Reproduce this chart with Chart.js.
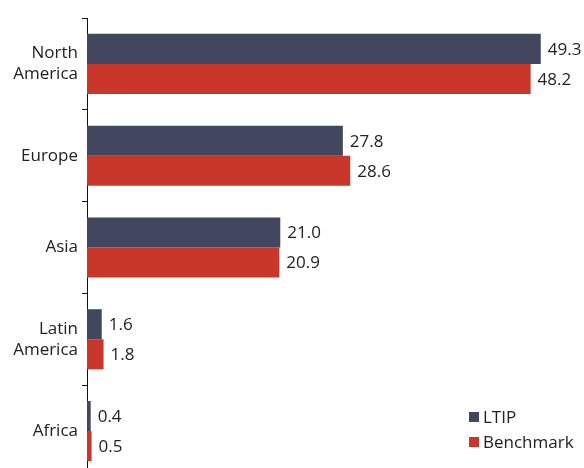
<!DOCTYPE html>
<html>
<head>
<meta charset="utf-8">
<script src="https://cdn.jsdelivr.net/npm/chart.js@4/dist/chart.umd.min.js"></script>
<style>
    html, body { margin: 0; padding: 0; background: #fff; overflow: hidden; }
    #wrap { position: relative; width: 584px; height: 477px; }
</style>
</head>
<body>
<div id="wrap"><canvas id="regionChart"></canvas></div>
<script>
const regions = [['North', 'America'], 'Europe', 'Asia', ['Latin', 'America'], 'Africa'];
const ltipValues = [49.3, 27.8, 21.0, 1.6, 0.4];
const benchmarkValues = [48.2, 28.6, 20.9, 1.8, 0.5];
const seriesNames = ['LTIP', 'Benchmark'];

const FONT = '"Open Sans", Roboto, sans-serif';

// value labels at the end of each bar
const valueLabels = {
    id: 'valueLabels',
    afterDatasetsDraw(chart) {
        const ctx = chart.ctx;
        ctx.save();
        ctx.font = '17px ' + FONT;
        ctx.fillStyle = '#222';
        ctx.textAlign = 'left';
        ctx.textBaseline = 'middle';
        chart.data.datasets.forEach(function (ds, i) {
            chart.getDatasetMeta(i).data.forEach(function (bar, j) {
                ctx.fillText(ds.data[j].toFixed(1), bar.x + 7, bar.y + 1);
            });
        });
        ctx.restore();
    }
};

// legend in the lower right corner of the plot
const cornerLegend = {
    id: 'cornerLegend',
    afterDraw(chart) {
        const ctx = chart.ctx;
        ctx.save();
        ctx.font = '17px ' + FONT;
        ctx.textBaseline = 'middle';
        chart.data.datasets.forEach(function (ds, i) {
            const y = 417 + i * 25;
            ctx.fillStyle = ds.backgroundColor;
            ctx.fillRect(469, y - 5, 10, 10);
            ctx.fillStyle = '#222';
            ctx.fillText(ds.label, 483, y + 1);
        });
        ctx.restore();
    }
};

new Chart(document.getElementById('regionChart'), {
    type: 'bar',
    data: {
        labels: regions,
        datasets: [
            {
                label: seriesNames[0],
                data: ltipValues,
                backgroundColor: '#42465f'
            },
            {
                label: seriesNames[1],
                data: benchmarkValues,
                backgroundColor: '#c9372b'
            }
        ]
    },
    options: {
        indexAxis: 'y',
        responsive: true,
        maintainAspectRatio: false,
        animation: false,
        categoryPercentage: 0.655,
        barPercentage: 1,
        layout: { padding: { top: 18, right: 0, bottom: 0, left: 0 } },
        plugins: {
            legend: { display: false },
            tooltip: { enabled: false }
        },
        scales: {
            x: {
                display: false,
                min: 0,
                max: 54
            },
            y: {
                afterFit(scale) {
                    scale.width = 87;
                    scale.paddingTop = 0;
                    scale.paddingBottom = 0;
                },
                border: { display: true, color: '#111', width: 1 },
                grid: {
                    drawOnChartArea: false,
                    tickLength: 5,
                    color: '#111',
                    offset: true
                },
                ticks: {
                    padding: 4,
                    color: '#222',
                    font: { family: FONT, size: 17, lineHeight: 1.24 }
                }
            }
        }
    },
    plugins: [valueLabels, cornerLegend]
});
</script>
</body>
</html>
